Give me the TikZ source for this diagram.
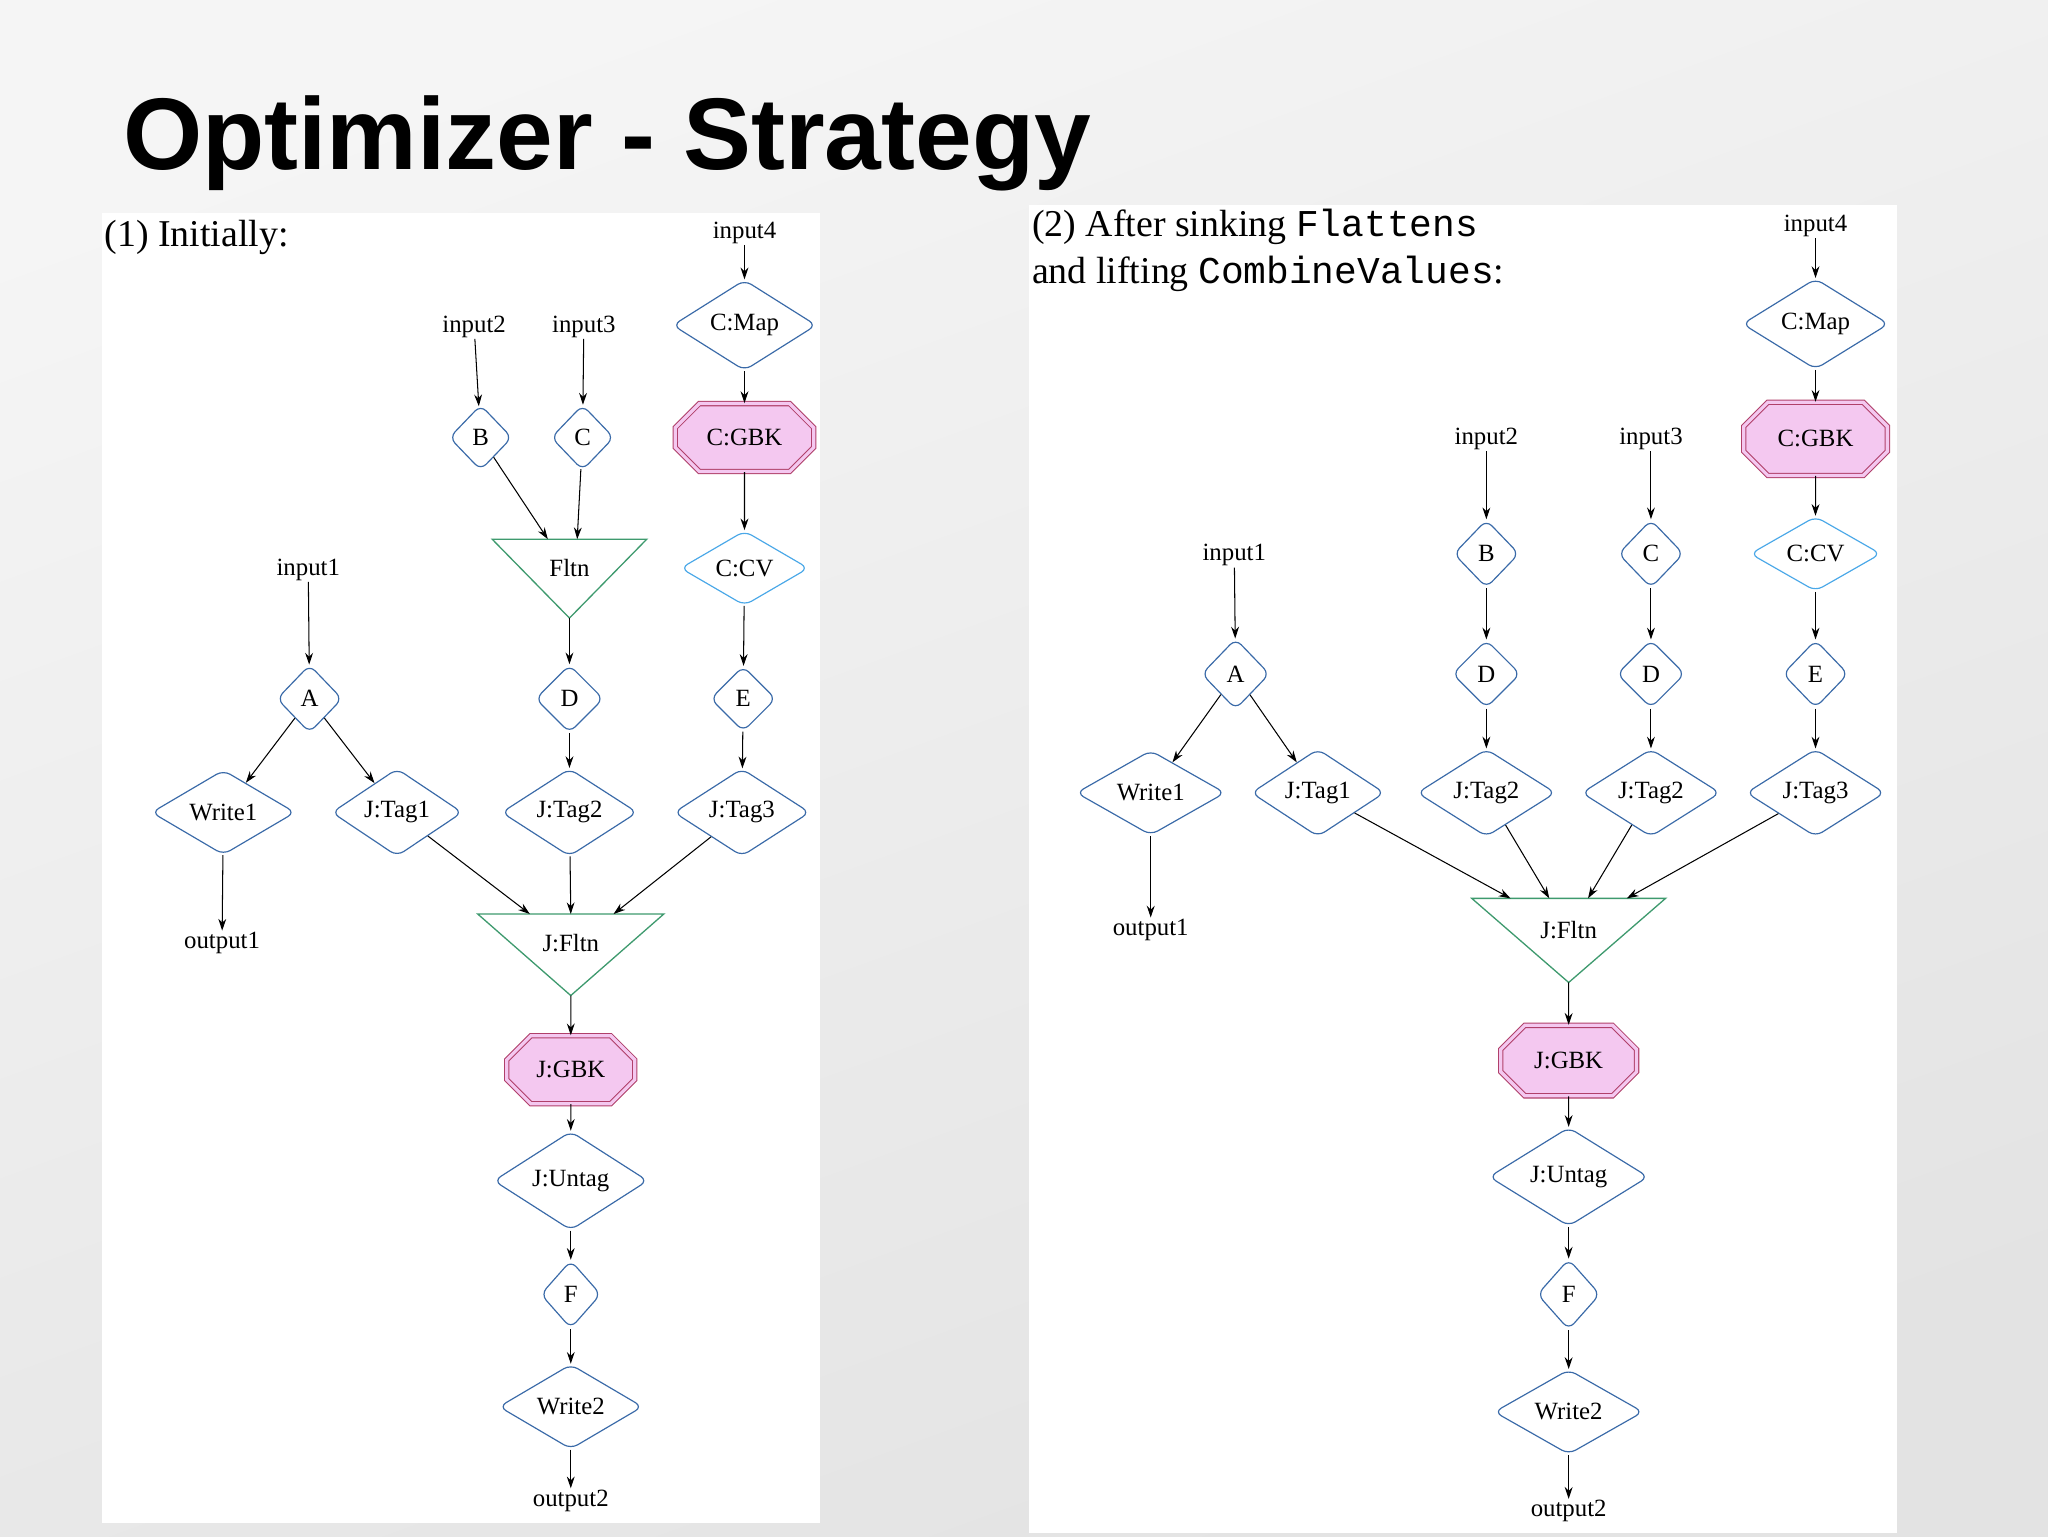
\documentclass[tikz,border=0pt]{standalone}
\usepackage{fontspec}
\setmainfont{Liberation Serif}
\setmonofont{Liberation Mono}
\setsansfont{Liberation Sans}
\usetikzlibrary{shapes.geometric,shapes.misc,arrows.meta,calc}
\definecolor{nb}{HTML}{3A6AA8}
\definecolor{cvb}{HTML}{4AA8E8}
\definecolor{tg}{HTML}{3E9A6E}
\definecolor{pk}{HTML}{F4C8F0}
\definecolor{pkd}{HTML}{B0406A}
\tikzset{
 dia/.style={diamond,draw=nb,line width=0.9pt,rounded corners=6pt,inner sep=0pt,font=\fontsize{19}{19}\selectfont},
 cv/.style={dia,draw=cvb},
 oct/.style={chamfered rectangle,chamfered rectangle xsep=12pt,chamfered rectangle ysep=12pt,draw=pkd,fill=pk,double=pk,double distance=2.5pt,line width=0.8pt,inner sep=0pt,font=\fontsize{19}{19}\selectfont},
 lab/.style={font=\fontsize{19}{19}\selectfont,inner sep=1pt},
 tri/.style={draw=none,inner sep=0pt,font=\fontsize{19}{19}\selectfont},
 ar/.style={-{Stealth[length=9pt,width=6pt]},line width=0.8pt}
}
\newcommand{\tridraw}[1]{\draw[tg,line width=1pt] (#1.north west)--(#1.north east)--(#1.south)--cycle;}
\begin{document}
\begin{tikzpicture}[x=1pt,y=-1pt]
\shade[top color=white!92!gray,bottom color=gray!22,shading angle=20] (0,0) rectangle (1568,1176);
\useasboundingbox (0,0) rectangle (1568,1176);
\node[anchor=base west,font=\sffamily\bfseries\fontsize{78}{78}\selectfont,inner sep=0] (title) at (94,130) {Optimizer - Strategy};
\fill[white] (78,163) rectangle (628,1166);
\fill[white] (788,157) rectangle (1452,1174);
\node[anchor=west,font=\fontsize{29}{29}\selectfont,inner sep=0] (h1) at (80,182) {(1) Initially:};
\node[anchor=north west,align=left,font=\fontsize{29}{36}\selectfont,inner sep=0] (h2) at (790,160) {(2) After sinking \texttt{Flattens}\\and lifting \texttt{CombineValues}:};
% ---- left
\node[lab] (li4) at (570,178) {input4};
\node[dia,minimum width=110,minimum height=50] (lcmap) at (570,249) {C:Map};
\node[oct,minimum width=106,minimum height=52] (lcgbk) at (570,335) {C:GBK};
\node[cv,minimum width=98,minimum height=50] (lccv) at (570,435) {C:CV};
\node[dia,minimum width=50,minimum height=50] (le) at (569,535) {E};
\node[dia,minimum width=104,minimum height=50] (ljt3) at (568,622) {J:Tag3};
\node[lab] (li2) at (363,250) {input2};
\node[lab] (li3) at (447,250) {input3};
\node[dia,minimum width=48,minimum height=50] (lb) at (368,335) {B};
\node[dia,minimum width=48,minimum height=50] (lc) at (446,335) {C};
\node[tri,minimum width=118,minimum height=60] (lfl) at (436,443) {};
\tridraw{lfl}\node[lab] at (436,435) {Fltn};
\node[lab] (li1) at (236,436) {input1};
\node[dia,minimum width=50,minimum height=52] (la) at (237,535) {A};
\node[dia,minimum width=110,minimum height=50] (lw1) at (171,622) {Write1};
\node[dia,minimum width=100,minimum height=50] (ljt1) at (304,622) {J:Tag1};
\node[dia,minimum width=52,minimum height=52] (ld) at (436,535) {D};
\node[dia,minimum width=104,minimum height=50] (ljt2) at (436,622) {J:Tag2};
\node[lab] (lo1) at (170,722) {output1};
\node[tri,minimum width=142,minimum height=62] (ljf) at (437,731) {};
\tridraw{ljf}\node[lab] at (437,722) {J:Fltn};
\node[oct,minimum width=98,minimum height=52] (ljg) at (437,819) {J:GBK};
\node[dia,minimum width=118,minimum height=50] (lju) at (437,904) {J:Untag};
\node[dia,minimum width=46,minimum height=52] (lf) at (437,991) {F};
\node[dia,minimum width=110,minimum height=50] (lw2) at (437,1077) {Write2};
\node[lab] (lo2) at (437,1149) {output2};
\draw[ar] (li4)--(lcmap); \draw[ar] (lcmap)--(lcgbk); \draw[ar] (lcgbk)--(lccv);
\draw[ar] (lccv)--(le); \draw[ar] (le)--(ljt3);
\draw[ar] (li2)--(lb); \draw[ar] (li3)--(lc);
\draw[ar] (lb)--($(lfl.north west)!0.36!(lfl.north east)$);
\draw[ar] (lc)--($(lfl.north west)!0.55!(lfl.north east)$);
\draw[ar] (lfl.south)--(ld); \draw[ar] (ld)--(ljt2);
\draw[ar] (li1)--(la); \draw[ar] (la)--(lw1); \draw[ar] (la)--(ljt1);
\draw[ar] (lw1)--(lo1);
\draw[ar] (ljt1)--($(ljf.north west)!0.28!(ljf.north east)$);
\draw[ar] (ljt2)--(ljf.north);
\draw[ar] (ljt3)--($(ljf.north west)!0.73!(ljf.north east)$);
\draw[ar] (ljf.south)--(ljg); \draw[ar] (ljg)--(lju); \draw[ar] (lju)--(lf);
\draw[ar] (lf)--(lw2); \draw[ar] (lw2)--(lo2);
% ---- right
\node[lab] (ri4) at (1390,173) {input4};
\node[dia,minimum width=112,minimum height=50] (rcmap) at (1390,248) {C:Map};
\node[oct,minimum width=110,minimum height=56] (rcgbk) at (1390,336) {C:GBK};
\node[cv,minimum width=100,minimum height=48] (rccv) at (1390,424) {C:CV};
\node[dia,minimum width=50,minimum height=52] (re) at (1390,516) {E};
\node[dia,minimum width=106,minimum height=50] (rjt3) at (1390,607) {J:Tag3};
\node[lab] (ri2) at (1138,336) {input2};
\node[dia,minimum width=50,minimum height=52] (rb) at (1138,424) {B};
\node[dia,minimum width=52,minimum height=52] (rd1) at (1138,516) {D};
\node[dia,minimum width=106,minimum height=50] (rjt2a) at (1138,607) {J:Tag2};
\node[lab] (ri3) at (1264,336) {input3};
\node[dia,minimum width=50,minimum height=52] (rc) at (1264,424) {C};
\node[dia,minimum width=52,minimum height=52] (rd2) at (1264,516) {D};
\node[dia,minimum width=106,minimum height=50] (rjt2b) at (1264,607) {J:Tag2};
\node[lab] (ri1) at (945,425) {input1};
\node[dia,minimum width=52,minimum height=54] (ra) at (946,516) {A};
\node[dia,minimum width=114,minimum height=50] (rw1) at (881,607) {Write1};
\node[dia,minimum width=102,minimum height=50] (rjt1) at (1009,607) {J:Tag1};
\node[lab] (ro1) at (881,712) {output1};
\node[tri,minimum width=148,minimum height=64] (rjf) at (1201,720) {};
\tridraw{rjf}\node[lab] at (1201,712) {J:Fltn};
\node[oct,minimum width=104,minimum height=54] (rjg) at (1201,812) {J:GBK};
\node[dia,minimum width=122,minimum height=50] (rju) at (1201,901) {J:Untag};
\node[dia,minimum width=48,minimum height=54] (rf) at (1201,991) {F};
\node[dia,minimum width=114,minimum height=54] (rw2) at (1201,1081) {Write2};
\node[lab] (ro2) at (1201,1157) {output2};
\draw[ar] (ri4)--(rcmap); \draw[ar] (rcmap)--(rcgbk); \draw[ar] (rcgbk)--(rccv);
\draw[ar] (rccv)--(re); \draw[ar] (re)--(rjt3);
\draw[ar] (ri2)--(rb); \draw[ar] (rb)--(rd1); \draw[ar] (rd1)--(rjt2a);
\draw[ar] (ri3)--(rc); \draw[ar] (rc)--(rd2); \draw[ar] (rd2)--(rjt2b);
\draw[ar] (ri1)--(ra); \draw[ar] (ra)--(rw1); \draw[ar] (ra)--(rjt1);
\draw[ar] (rw1)--(ro1);
\draw[ar] (rjt1)--($(rjf.north west)!0.2!(rjf.north east)$);
\draw[ar] (rjt2a)--($(rjf.north west)!0.4!(rjf.north east)$);
\draw[ar] (rjt2b)--($(rjf.north west)!0.6!(rjf.north east)$);
\draw[ar] (rjt3)--($(rjf.north west)!0.8!(rjf.north east)$);
\draw[ar] (rjf.south)--(rjg); \draw[ar] (rjg)--(rju); \draw[ar] (rju)--(rf);
\draw[ar] (rf)--(rw2); \draw[ar] (rw2)--(ro2);
\end{tikzpicture}
\end{document}
